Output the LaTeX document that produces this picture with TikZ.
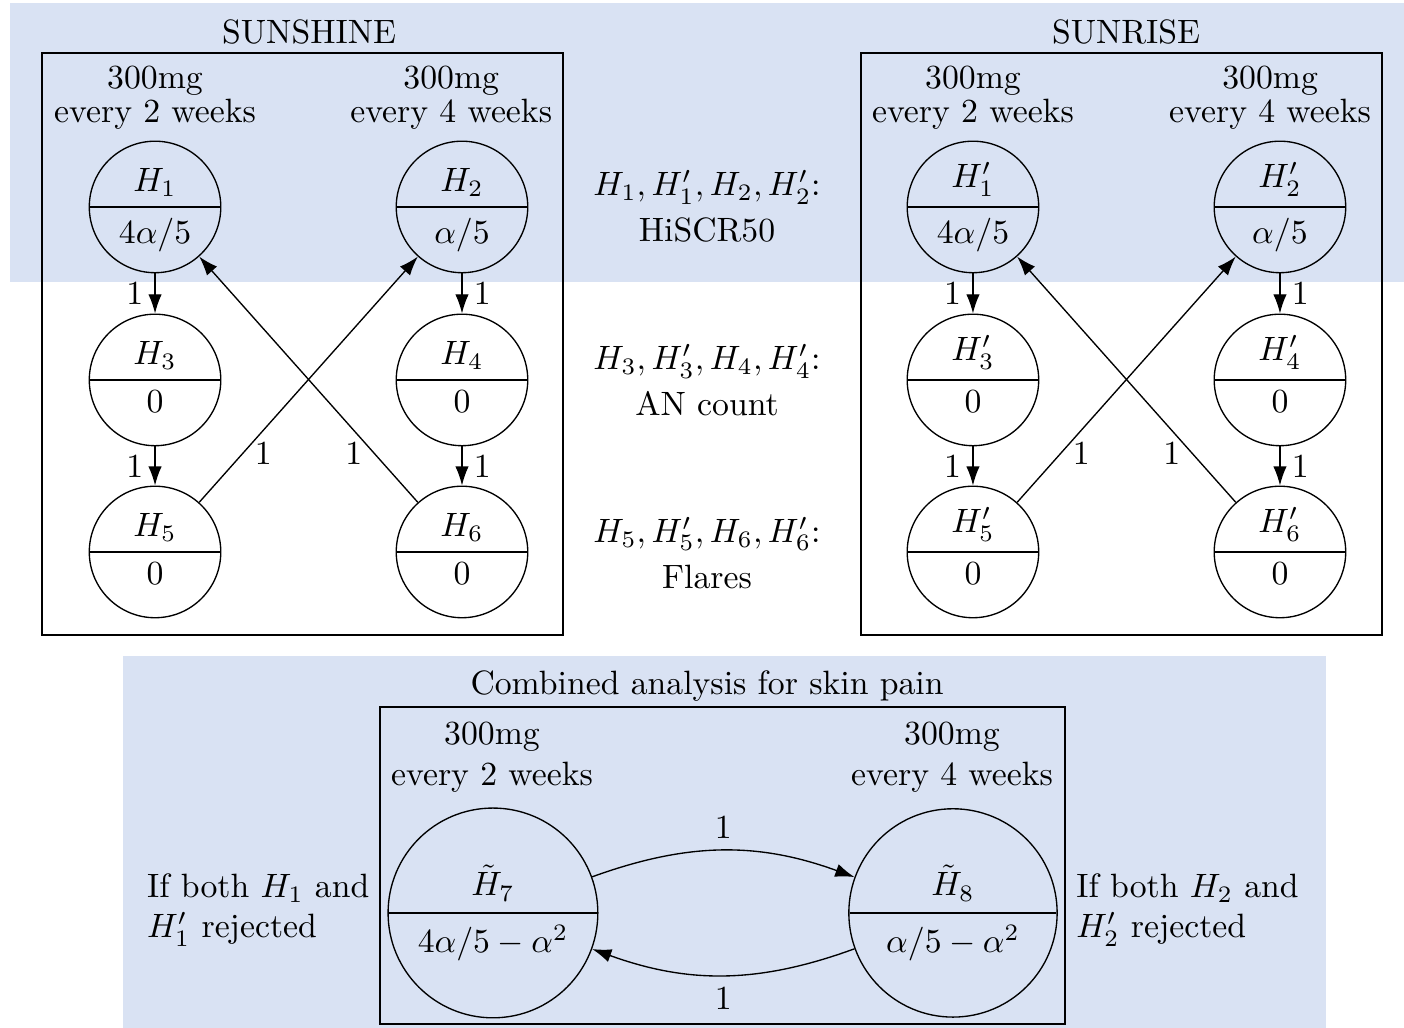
\documentclass[tikz,border=0pt]{standalone}
\definecolor{bandblue}{HTML}{D9E2F3}
\usepackage{tikz}
\usetikzlibrary{arrows.meta,shapes.multipart}
\usepackage{amsmath,amssymb}

\begin{document}
\begin{tikzpicture}[
  hyp/.style={circle split,draw,minimum size=1.37cm,inner xsep=0pt,inner ysep=3pt},
  hypbig/.style={circle split,draw,minimum size=2.17cm},
  trans/.style={-{Latex[length=2mm,width=1.4mm]}}]
  \useasboundingbox (0,0) rectangle (14.625,10.708);
  % Shaded bands
  \fill[bandblue] (0.104,7.771) rectangle (14.625,10.677);
  \fill[bandblue] (1.281,0) rectangle (13.813,3.875);
  % Study boxes
  \draw (0.4375,4.094) rectangle (5.865,10.156);
  \draw (8.969,4.094) rectangle (14.396,10.156);
  \draw (3.958,0.042) rectangle (11.094,3.344);
  \node (tsunshine) at (3.22,10.37) {SUNSHINE};
  \node (tsunrise) at (11.73,10.37) {SUNRISE};
  \node (tcombined) at (7.365,3.56) {Combined analysis for skin pain};
  % Dose labels
  \node[align=center] (da) at (1.615,9.69) {300mg\\[-2pt]every 2 weeks};
  \node[align=center] (db) at (4.70,9.69) {300mg\\[-2pt]every 4 weeks};
  \node[align=center] (dc) at (10.135,9.69) {300mg\\[-2pt]every 2 weeks};
  \node[align=center] (dd) at (13.23,9.69) {300mg\\[-2pt]every 4 weeks};
  \node[align=center] (de) at (5.125,2.82) {300mg\\every 2 weeks};
  \node[align=center] (df) at (9.917,2.82) {300mg\\every 4 weeks};
  % SUNSHINE hypotheses
  \node[hyp] (h1) at (1.615,8.552) {$H_1$ \nodepart{lower} $4\alpha/5$};
  \node[hyp] (h2) at (4.8125,8.552) {$H_2$ \nodepart{lower} $\alpha/5$};
  \node[hyp] (h3) at (1.615,6.75) {$H_3$ \nodepart{lower} $0$};
  \node[hyp] (h4) at (4.8125,6.75) {$H_4$ \nodepart{lower} $0$};
  \node[hyp] (h5) at (1.615,4.958) {$H_5$ \nodepart{lower} $0$};
  \node[hyp] (h6) at (4.8125,4.958) {$H_6$ \nodepart{lower} $0$};
  % SUNRISE hypotheses
  \node[hyp] (h1p) at (10.135,8.552) {$H'_1$ \nodepart{lower} $4\alpha/5$};
  \node[hyp] (h2p) at (13.333,8.552) {$H'_2$ \nodepart{lower} $\alpha/5$};
  \node[hyp] (h3p) at (10.135,6.75) {$H'_3$ \nodepart{lower} $0$};
  \node[hyp] (h4p) at (13.333,6.75) {$H'_4$ \nodepart{lower} $0$};
  \node[hyp] (h5p) at (10.135,4.958) {$H'_5$ \nodepart{lower} $0$};
  \node[hyp] (h6p) at (13.333,4.958) {$H'_6$ \nodepart{lower} $0$};
  % Endpoint legend
  \node[align=center] (ea) at (7.365,8.56) {$H_1, H'_1, H_2, H'_2$:\\[1.5pt]HiSCR50};
  \node[align=center] (eb) at (7.365,6.75) {$H_3, H'_3, H_4, H'_4$:\\[1.5pt]AN count};
  \node[align=center] (ec) at (7.365,4.95) {$H_5, H'_5, H_6, H'_6$:\\[1.5pt]Flares};
  % Transitions
  \draw[trans] (h1) -- node[left] {1} (h3);
  \draw[trans] (h3) -- node[left] {1} (h5);
  \draw[trans] (h2) -- node[right] {1} (h4);
  \draw[trans] (h4) -- node[right] {1} (h6);
  \draw[trans] (h5) -- node[pos=0.2,right] {1} (h2);
  \draw[trans] (h6) -- node[pos=0.2,left] {1} (h1);
  \draw[trans] (h1p) -- node[left] {1} (h3p);
  \draw[trans] (h3p) -- node[left] {1} (h5p);
  \draw[trans] (h2p) -- node[right] {1} (h4p);
  \draw[trans] (h4p) -- node[right] {1} (h6p);
  \draw[trans] (h5p) -- node[pos=0.2,right] {1} (h2p);
  \draw[trans] (h6p) -- node[pos=0.2,left] {1} (h1p);
  % Combined skin pain
  \node[hypbig] (h7) at (5.135,1.198) {$\tilde{H}_7$ \nodepart{lower} $4\alpha/5-\alpha^2$};
  \node[hypbig] (h8) at (9.927,1.198) {$\tilde{H}_8$ \nodepart{lower} $\alpha/5-\alpha^2$};
  \draw[trans] (h7) to[bend left=20] node[above] {1} (h8);
  \draw[trans] (h8) to[bend left=20] node[below] {1} (h7);
  \node[align=left] (ca) at (2.69,1.23) {If both $H_1$ and\\$H'_1$ rejected};
  \node[align=left] (cb) at (12.37,1.23) {If both $H_2$ and\\$H'_2$ rejected};
\end{tikzpicture}
\end{document}
